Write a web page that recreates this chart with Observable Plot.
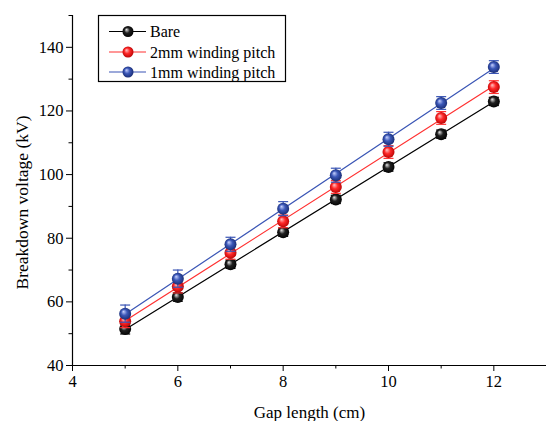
<!DOCTYPE html>
<html>
<head>
<meta charset="utf-8">
<script src="https://cdn.jsdelivr.net/npm/d3@7"></script>
<script src="https://cdn.jsdelivr.net/npm/@observablehq/plot@0.6"></script>
<style>
  html, body { margin: 0; padding: 0; background: #fff; }
  #chart svg { display: block; }
</style>
</head>
<body>
<div id="chart"></div>
<script>
// ---- data ----
const gap = [5, 6, 7, 8, 9, 10, 11, 12];                       // Gap length (cm)
const seriesNames = ["Bare", "2mm winding pitch", "1mm winding pitch"];
const bare   = [51.5, 61.5, 71.8, 81.9, 92.2, 102.4, 112.7, 123.0];
const pitch2 = [53.9, 64.8, 75.4, 85.3, 96.1, 107.1, 117.8, 127.5];
const pitch1 = [56.3, 67.3, 78.1, 89.3, 99.8, 111.1, 122.5, 133.8];
const errBare   = [1.6, 1.3, 1.3, 1.3, 1.3, 1.3, 1.3, 1.3];
const errPitch2 = [2.0, 2.0, 2.0, 2.0, 2.0, 2.0, 2.0, 2.0];
const errPitch1 = [2.7, 2.7, 2.2, 2.2, 2.2, 2.2, 2.0, 2.0];
const xMajor = [4, 6, 8, 10, 12];
const xMinor = [5, 7, 9, 11];
const yMajor = [40, 60, 80, 100, 120, 140];
const yMinor = [50, 70, 90, 110, 130, 150];

// ---- styles ----
const lineColors = ["#000000", "#ff3030", "#3a55b5"];
const gradIds = ["gBlack", "gRed", "gBlue"];
const gradStops = [
  ["#e8e8e8", "#202020", "#000000"],
  ["#ffc8c8", "#ff2a2a", "#b40000"],
  ["#c8d2ff", "#3c58b8", "#15286e"]
];

const valueSets = [bare, pitch2, pitch1];
const errSets = [errBare, errPitch2, errPitch1];
const rows = [];
seriesNames.forEach((s, k) => {
  gap.forEach((g, i) => {
    rows.push({series: s, k, gap: g, v: valueSets[k][i], lo: valueSets[k][i] - errSets[k][i], hi: valueSets[k][i] + errSets[k][i]});
  });
});

const capSymbol = {
  draw(context, size) {
    const w = 5;
    context.moveTo(-w, 0);
    context.lineTo(w, 0);
  }
};

const font = "'Liberation Serif', 'Times New Roman', serif";
const marks = [];
seriesNames.forEach((s, k) => {
  const d = rows.filter(r => r.k === k);
  marks.push(
    Plot.linearRegressionY(d, {x: "gap", y: "v", ci: 0, stroke: lineColors[k], strokeWidth: 1.2}),
    Plot.ruleX(d, {x: "gap", y1: "lo", y2: "hi", stroke: lineColors[k], strokeWidth: 1.2}),
    Plot.dot(d, {x: "gap", y: "hi", symbol: capSymbol, r: 5, stroke: lineColors[k], strokeWidth: 1.2, fill: "none"}),
    Plot.dot(d, {x: "gap", y: "lo", symbol: capSymbol, r: 5, stroke: lineColors[k], strokeWidth: 1.2, fill: "none"}),
    Plot.dot(d, {x: "gap", y: "v", r: 6, fill: `url(#${gradIds[k]})`, stroke: "none"})
  );
});

const plot = Plot.plot({
  width: 547,
  height: 421,
  marginLeft: 72,
  marginRight: 1,
  marginTop: 15,
  marginBottom: 56,
  style: {fontFamily: font, fontSize: "16.5px", color: "#000", background: "#fff"},
  x: {domain: [4, 13]},
  y: {domain: [40, 150]},
  marks: [
    Plot.axisX({ticks: xMajor, tickSize: 6, tickPadding: 4, fontSize: 16.5, label: null, tickFormat: d => String(d)}),
    Plot.axisX({ticks: xMinor, tickSize: 3.5, text: null, label: null}),
    Plot.axisY({ticks: yMajor, tickSize: 6, tickPadding: 3, fontSize: 16.5, label: null, tickFormat: d => String(d)}),
    Plot.axisY({ticks: yMinor, tickSize: 3.5, text: null, label: null}),
    Plot.ruleY([40], {stroke: "#000", strokeWidth: 1.2}),
    Plot.ruleX([4], {stroke: "#000", strokeWidth: 1.2}),
    Plot.text(["Gap length (cm)"], {frameAnchor: "bottom", dy: 52, fontSize: 17, fill: "#000"}),
    Plot.text(["Breakdown voltage (kV)"], {frameAnchor: "left", textAnchor: "middle", dx: -50, dy: 12, rotate: -90, fontSize: 17.5, fill: "#000"}),
    ...marks
  ]
});

// gradient definitions for the shaded spheres
const svg = d3.select(plot);
const defs = svg.insert("defs", ":first-child");
gradIds.forEach((id, k) => {
  const g = defs.append("radialGradient").attr("id", id)
    .attr("cx", "50%").attr("cy", "50%").attr("r", "55%")
    .attr("fx", "35%").attr("fy", "32%");
  g.append("stop").attr("offset", "0%").attr("stop-color", gradStops[k][0]);
  g.append("stop").attr("offset", "45%").attr("stop-color", gradStops[k][1]);
  g.append("stop").attr("offset", "100%").attr("stop-color", gradStops[k][2]);
});

// legend box inside the plot area
const lg = svg.append("g").attr("font-family", font).attr("font-size", 16).attr("text-anchor", "start");
lg.append("rect").attr("x", 98.5).attr("y", 15.5).attr("width", 187).attr("height", 66)
  .attr("fill", "#fff").attr("stroke", "#000").attr("stroke-width", 1.2);
const ys = [31.5, 52, 72];
seriesNames.forEach((s, k) => {
  lg.append("line").attr("x1", 109).attr("x2", 146).attr("y1", ys[k]).attr("y2", ys[k])
    .attr("stroke", lineColors[k]).attr("stroke-width", 1.2);
  lg.append("circle").attr("cx", 128).attr("cy", ys[k]).attr("r", 5.5).attr("fill", `url(#${gradIds[k]})`);
  lg.append("text").attr("x", 150).attr("y", ys[k]).attr("dy", "0.35em").attr("fill", "#000").attr("text-anchor", "start").text(s);
});

document.getElementById("chart").appendChild(plot);
</script>
</body>
</html>
